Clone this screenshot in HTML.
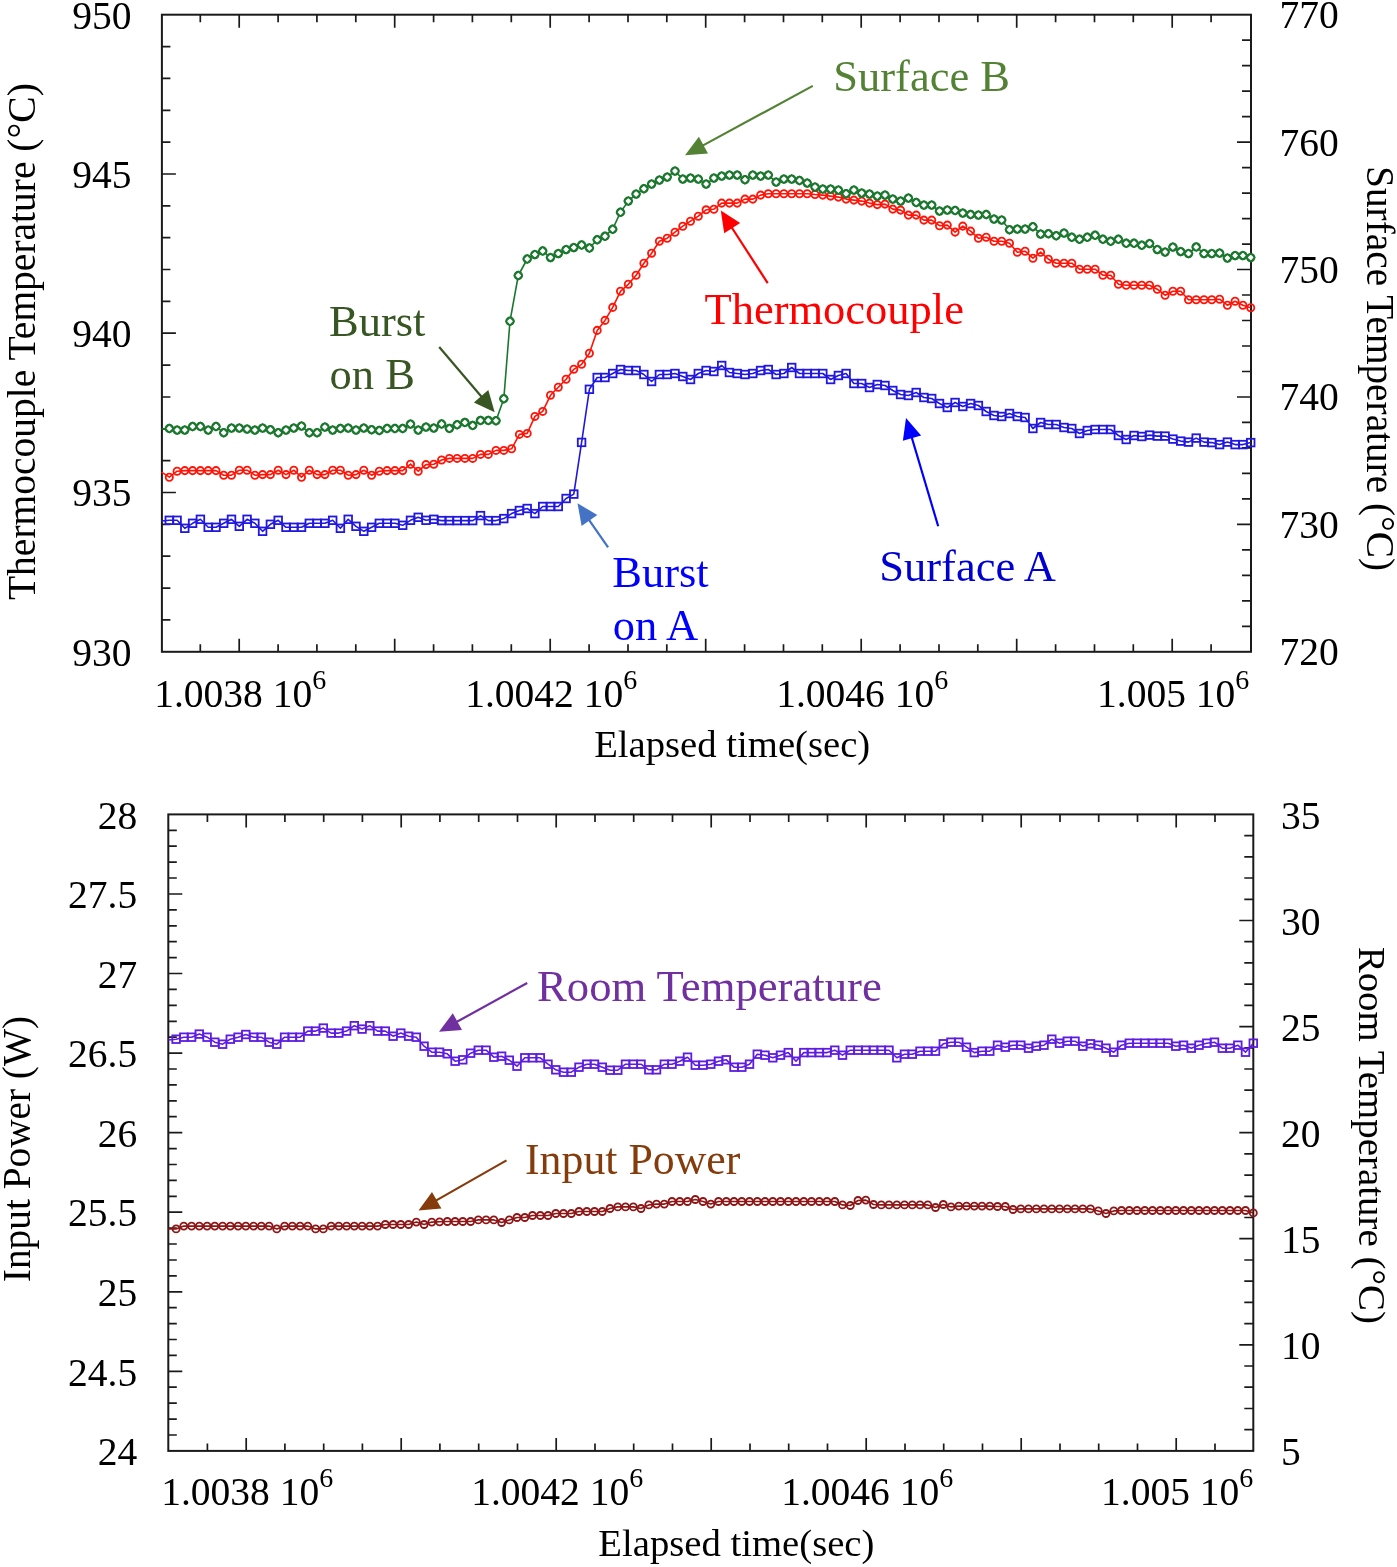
<!DOCTYPE html>
<html lang="en"><head><meta charset="utf-8"><title>Temperature bursts and input power vs elapsed time</title>
<style>html,body{margin:0;padding:0;background:#fff}svg{display:block}text{font-family:"Liberation Serif",serif;fill:#000}.tk{font-size:39.5px}.ax{font-size:38.7px}.an{font-size:44.5px}.sup{font-size:28px}.fr{fill:none;stroke:#1a1a1a;stroke-width:2}.t{stroke:#1a1a1a;stroke-width:1.7;fill:none}.s{fill:none;stroke-width:1.6;stroke-linejoin:round}</style></head><body>
<svg width="1397" height="1567" viewBox="0 0 1397 1567">
<rect width="1397" height="1567" fill="#fff"/>
<defs>
<marker id="mg" markerUnits="userSpaceOnUse" markerWidth="14" markerHeight="14" refX="7" refY="7" viewBox="0 0 14 14" overflow="visible"><circle cx="7" cy="7" r="3.8" fill="#fff" stroke="#1b772e" stroke-width="1.8"/><path d="M7 3 L11 7 L7 11 L3 7Z" fill="none" stroke="#1b772e" stroke-width="1.4"/></marker>
<marker id="mr" markerUnits="userSpaceOnUse" markerWidth="14" markerHeight="14" refX="7" refY="7" viewBox="0 0 14 14" overflow="visible"><circle cx="7" cy="7" r="3.6" fill="none" stroke="#ff1408" stroke-width="1.85"/></marker>
<marker id="mb" markerUnits="userSpaceOnUse" markerWidth="14" markerHeight="14" refX="7" refY="7" viewBox="0 0 14 14" overflow="visible"><rect x="3.2" y="3.2" width="7.6" height="7.6" fill="none" stroke="#2018de" stroke-width="1.8"/></marker>
<marker id="mp" markerUnits="userSpaceOnUse" markerWidth="14" markerHeight="14" refX="7" refY="7" viewBox="0 0 14 14" overflow="visible"><rect x="3.2" y="3.2" width="7.6" height="7.6" fill="none" stroke="#5e1ce2" stroke-width="1.8"/></marker>
<marker id="mn" markerUnits="userSpaceOnUse" markerWidth="14" markerHeight="14" refX="7" refY="7" viewBox="0 0 14 14" overflow="visible"><circle cx="7" cy="7" r="3.5" fill="none" stroke="#8e1616" stroke-width="1.85"/></marker>
</defs>
<g>
<path class="t" d="M200.3 14.7v7.5M200.3 651.8v-7.5M239.2 14.7v13M239.2 651.8v-13M278.1 14.7v7.5M278.1 651.8v-7.5M316.9 14.7v7.5M316.9 651.8v-7.5M355.8 14.7v7.5M355.8 651.8v-7.5M394.7 14.7v13M394.7 651.8v-13M433.6 14.7v7.5M433.6 651.8v-7.5M472.4 14.7v7.5M472.4 651.8v-7.5M511.3 14.7v7.5M511.3 651.8v-7.5M550.2 14.7v13M550.2 651.8v-13M589.1 14.7v7.5M589.1 651.8v-7.5M628 14.7v7.5M628 651.8v-7.5M666.8 14.7v7.5M666.8 651.8v-7.5M705.7 14.7v13M705.7 651.8v-13M744.6 14.7v7.5M744.6 651.8v-7.5M783.5 14.7v7.5M783.5 651.8v-7.5M822.3 14.7v7.5M822.3 651.8v-7.5M861.2 14.7v13M861.2 651.8v-13M900.1 14.7v7.5M900.1 651.8v-7.5M939 14.7v7.5M939 651.8v-7.5M977.8 14.7v7.5M977.8 651.8v-7.5M1016.7 14.7v13M1016.7 651.8v-13M1055.6 14.7v7.5M1055.6 651.8v-7.5M1094.5 14.7v7.5M1094.5 651.8v-7.5M1133.3 14.7v7.5M1133.3 651.8v-7.5M1172.2 14.7v13M1172.2 651.8v-13M1211.1 14.7v7.5M1211.1 651.8v-7.5M161.9 46.6h8.5M161.9 78.4h8.5M161.9 110.3h8.5M161.9 142.1h8.5M161.9 174h14M161.9 205.8h8.5M161.9 237.7h8.5M161.9 269.5h8.5M161.9 301.4h8.5M161.9 333.2h14M161.9 365.1h8.5M161.9 397h8.5M161.9 428.8h8.5M161.9 460.7h8.5M161.9 492.5h14M161.9 524.4h8.5M161.9 556.2h8.5M161.9 588.1h8.5M161.9 619.9h8.5M1251 40.2h-9M1251 65.7h-9M1251 91.2h-9M1251 116.6h-9M1251 142.1h-14M1251 167.6h-9M1251 193.1h-9M1251 218.6h-9M1251 244.1h-9M1251 269.5h-14M1251 295h-9M1251 320.5h-9M1251 346h-9M1251 371.5h-9M1251 397h-14M1251 422.4h-9M1251 447.9h-9M1251 473.4h-9M1251 498.9h-9M1251 524.4h-14M1251 549.9h-9M1251 575.3h-9M1251 600.8h-9M1251 626.3h-9"/>
<rect class="fr" x="161.9" y="14.7" width="1089.1" height="637.1"/>
<text class="tk" x="131.5" y="28.6" text-anchor="end">950</text>
<text class="tk" x="131.5" y="187.9" text-anchor="end">945</text>
<text class="tk" x="131.5" y="347.1" text-anchor="end">940</text>
<text class="tk" x="131.5" y="506.4" text-anchor="end">935</text>
<text class="tk" x="131.5" y="665.7" text-anchor="end">930</text>
<text class="tk" x="1279.5" y="28.1">770</text>
<text class="tk" x="1279.5" y="155.5">760</text>
<text class="tk" x="1279.5" y="282.9">750</text>
<text class="tk" x="1279.5" y="410.4">740</text>
<text class="tk" x="1279.5" y="537.8">730</text>
<text class="tk" x="1279.5" y="665.2">720</text>
<text class="tk" x="240.2" y="707" text-anchor="middle">1.0038 10<tspan class="sup" dy="-18">6</tspan></text>
<text class="tk" x="551.2" y="707" text-anchor="middle">1.0042 10<tspan class="sup" dy="-18">6</tspan></text>
<text class="tk" x="862.2" y="707" text-anchor="middle">1.0046 10<tspan class="sup" dy="-18">6</tspan></text>
<text class="tk" x="1173.2" y="707" text-anchor="middle">1.005 10<tspan class="sup" dy="-18">6</tspan></text>
<text class="ax" x="732.2" y="757.3" text-anchor="middle">Elapsed time(sec)</text>
<text class="ax" style="font-size:39.5px" transform="translate(34.5 341.6) rotate(-90)" text-anchor="middle">Thermocouple Temperature (°C)</text>
<text class="ax" style="font-size:39.3px" transform="translate(1366.5 368.6) rotate(90)" text-anchor="middle">Surface Temperature (°C)</text>
<polyline class="s" stroke="#2018de" marker-mid="url(#mb)" marker-end="url(#mb)" points="161.5,521 169.3,520.3 177.1,520.3 184.8,528.3 192.6,523.3 200.4,519.3 208.2,527.3 216,527.3 223.7,523.3 231.5,519.3 239.3,526.3 247.1,519.3 254.9,523.3 262.6,531.3 270.4,524.3 278.2,520.3 286,527.3 293.8,527.3 301.5,527.3 309.3,523.3 317.1,523.3 324.9,523.3 332.7,520.3 340.4,528.3 348.2,519.3 356,526.3 363.8,531.3 371.6,527.3 379.3,523.3 387.1,523.3 394.9,523.3 402.7,525.3 410.5,520.3 418.2,517.3 426,520.3 433.8,519.3 441.6,520.6 449.4,520.6 457.1,520.6 464.9,520.6 472.7,520.6 480.5,515.6 488.3,520.6 496,520.6 503.8,518.6 511.6,513.6 519.4,510.5 527.2,508.5 534.9,513.6 542.7,506.5 550.5,506.5 558.3,506.5 566.1,498.5 573.8,494.1 581.6,442.4 589.4,389.3 597.2,377.5 605,377.5 612.7,373.5 620.5,369.5 628.3,370.5 636.1,370.5 643.9,374.5 651.6,381.5 659.4,374.5 667.2,374.5 675,373.5 682.8,376.5 690.5,379.5 698.3,373.5 706.1,370.5 713.9,371.5 721.7,365.5 729.4,372.5 737.2,373.5 745,374.5 752.8,373.5 760.6,370.5 768.3,369.5 776.1,374.5 783.9,373.5 791.7,367.5 799.5,373.5 807.2,373.5 815,373.5 822.8,373.5 830.6,379.5 838.4,375.5 846.1,373.5 853.9,383.5 861.7,383.5 869.5,387.5 877.3,384.5 885,385.5 892.8,390.5 900.6,394.5 908.4,395.5 916.2,392.5 923.9,397.5 931.7,398.5 939.5,403.5 947.3,407.5 955.1,402.5 962.8,406.5 970.6,403.5 978.4,405.5 986.2,411.5 994,415.5 1001.7,416.5 1009.5,413.5 1017.3,416.5 1025.1,417.5 1032.9,428.5 1040.6,422.5 1048.4,424.5 1056.2,424.5 1064,427.5 1071.8,428.5 1079.5,433.5 1087.3,430.5 1095.1,429.5 1102.9,429.5 1110.7,429.5 1118.4,435.5 1126.2,439.5 1134,435.5 1141.8,436.5 1149.6,435.1 1157.3,436.1 1165.1,436.1 1172.9,439.1 1180.7,441.1 1188.5,442.1 1196.2,438.1 1204,442.1 1211.8,442.6 1219.6,444.6 1227.4,442.1 1235.1,444.6 1242.9,444.6 1250.7,442.6"/>
<polyline class="s" stroke="#ff1408" marker-mid="url(#mr)" marker-end="url(#mr)" points="161.5,472.2 169.3,477.2 177.1,471.2 184.8,470.6 192.6,470.6 200.4,470.6 208.2,470.6 216,470.6 223.7,475.2 231.5,475.2 239.3,470.2 247.1,470.2 254.9,475.2 262.6,474.6 270.4,474.6 278.2,470.2 286,474.6 293.8,470.2 301.5,477.2 309.3,470.2 317.1,474.6 324.9,474.6 332.7,470.2 340.4,470.2 348.2,475.2 356,474.6 363.8,470.2 371.6,475.2 379.3,471.2 387.1,470.6 394.9,470.6 402.7,470.6 410.5,464.2 418.2,471.2 426,464.6 433.8,464.2 441.6,460 449.4,458.4 457.1,458.4 464.9,458.4 472.7,458.4 480.5,454.4 488.3,454.4 496,450.4 503.8,450.4 511.6,448.8 519.4,434.4 527.2,433.4 534.9,416.4 542.7,411.4 550.5,395.3 558.3,387.3 566.1,379.3 573.8,369.3 581.6,364.3 589.4,353.2 597.2,330.4 605,320.4 612.7,307.4 620.5,291.3 628.3,284.3 636.1,275.3 643.9,263.3 651.6,253.2 659.4,241.2 667.2,238.2 675,232.2 682.8,226.2 690.5,221.2 698.3,216.2 706.1,209.8 713.9,209.2 721.7,203.1 729.4,203.1 737.2,203.1 745,199.1 752.8,199.1 760.6,195.1 768.3,193.7 776.1,193.7 783.9,193.7 791.7,193.7 799.5,193.7 807.2,193.7 815,194.5 822.8,195.1 830.6,196.1 838.4,197.1 846.1,199.1 853.9,200.1 861.7,201.1 869.5,203.1 877.3,204.6 885,204.1 892.8,209.1 900.6,210.1 908.4,215.1 916.2,215.1 923.9,220.1 931.7,220.1 939.5,225.7 947.3,225.1 955.1,232.1 962.8,226.1 970.6,231.1 978.4,238.2 986.2,237.2 994,241.2 1001.7,241.2 1009.5,243.2 1017.3,252.2 1025.1,251.2 1032.9,258.2 1040.6,252.2 1048.4,259.2 1056.2,263.2 1064,263.2 1071.8,263.2 1079.5,269.2 1087.3,269.2 1095.1,269.2 1102.9,275.2 1110.7,275.2 1118.4,284.2 1126.2,285.3 1134,285.3 1141.8,285.3 1149.6,285.2 1157.3,289.2 1165.1,295.2 1172.9,291.2 1180.7,291.2 1188.5,299.7 1196.2,299.7 1204,299.7 1211.8,299.7 1219.6,299.2 1227.4,305.2 1235.1,301.2 1242.9,305.2 1250.7,307.7"/>
<polyline class="s" stroke="#1b772e" marker-mid="url(#mg)" marker-end="url(#mg)" points="161.5,429 169.3,428.5 177.1,430.1 184.8,430.1 192.6,426.5 200.4,426.5 208.2,430.1 216,426.5 223.7,432.7 231.5,428.1 239.3,428.1 247.1,429.1 254.9,430.1 262.6,428.1 270.4,429.7 278.2,432.7 286,430.1 293.8,428.1 301.5,426.1 309.3,432.7 317.1,432.7 324.9,427.1 332.7,430.1 340.4,428.5 348.2,428.1 356,430.1 363.8,428.1 371.6,429.7 379.3,430.5 387.1,428.5 394.9,428.5 402.7,428.5 410.5,424.1 418.2,430.1 426,427.1 433.8,428.1 441.6,424 449.4,428.4 457.1,424.8 464.9,422.4 472.7,425.4 480.5,420.4 488.3,420.4 496,420.8 503.8,398.7 510,321.2 518.3,275.5 527.2,259 534.9,254.6 542.7,251 550.5,257.6 558.3,253.6 566.1,249.6 573.8,247.6 581.6,245 589.4,248 597.2,239.8 605,236.2 612.7,229.2 620.5,212.2 628.3,201.1 636.1,194.1 643.9,188.7 651.6,184.1 659.4,180.1 667.2,177.1 675,171.1 682.8,179.1 690.5,178.1 698.3,179.1 706.1,184.1 713.9,178.1 721.7,176.1 729.4,175.1 737.2,175.1 745,179.7 752.8,175.1 760.6,176.1 768.3,175.1 776.1,182.1 783.9,179.1 791.7,179.1 799.5,180.5 807.2,183.1 815,187.1 822.8,189.1 830.6,189.1 838.4,190.1 846.1,193.7 853.9,190.1 861.7,193.1 869.5,194.1 877.3,196.1 885,195.1 892.8,199.1 900.6,201.1 908.4,198.1 916.2,202.5 923.9,205.1 931.7,205.1 939.5,211.1 947.3,210.1 955.1,210.5 962.8,213.1 970.6,214.5 978.4,215.1 986.2,214.5 994,219.1 1001.7,220.1 1009.5,229.7 1017.3,229.1 1025.1,229.1 1032.9,226.7 1040.6,234.1 1048.4,233.7 1056.2,235.8 1064,233.1 1071.8,237.2 1079.5,239.2 1087.3,237.2 1095.1,235.2 1102.9,239.2 1110.7,241.2 1118.4,239.2 1126.2,243.2 1134,243.2 1141.8,245.2 1149.6,243.6 1157.3,249.6 1165.1,252.1 1172.9,247.1 1180.7,251.6 1188.5,253.6 1196.2,246.9 1204,253.6 1211.8,253.6 1219.6,253.1 1227.4,258.1 1235.1,255.6 1242.9,255.6 1250.7,257.6"/>
</g>
<path d="M812.8 85.9L701.7 146.1" stroke="#548235" stroke-width="2.2" fill="none"/>
<path d="M685 155.2L698.9 136.8L708 153.5Z" fill="#548235"/>
<text class="an" x="833.3" y="91" style="fill:#548235">Surface B</text>
<path d="M767.7 283.1L731.1 226.5" stroke="#ff0000" stroke-width="2.2" fill="none"/>
<path d="M720.8 210.5L740.2 223L724.2 233.3Z" fill="#ff0000"/>
<text class="an" x="704.5" y="324.3" style="fill:#ff0000">Thermocouple</text>
<path d="M439.2 347L482.4 397.8" stroke="#375623" stroke-width="2.2" fill="none"/>
<path d="M494.7 412.3L473.9 402.5L488.3 390.1Z" fill="#375623"/>
<text class="an" x="329" y="335.8" style="fill:#375623">Burst</text>
<text class="an" x="329.5" y="389.1" style="fill:#375623">on B</text>
<path d="M608.1 547.4L588.3 518.8" stroke="#4472c4" stroke-width="2.2" fill="none"/>
<path d="M577.5 503.2L597.3 515.1L581.6 525.9Z" fill="#4472c4"/>
<text class="an" x="612.3" y="586.5" style="fill:#0000ff">Burst</text>
<text class="an" x="612.8" y="639.8" style="fill:#0000ff">on A</text>
<path d="M938.2 526.3L911.4 436.2" stroke="#0000ff" stroke-width="2.2" fill="none"/>
<path d="M906 418L921.1 435.4L902.9 440.8Z" fill="#0000ff"/>
<text class="an" x="879.3" y="581.3" style="fill:#0000d0">Surface A</text>
<g>
<path class="t" d="M207.4 814.4v7.5M207.4 1450.9v-7.5M246.2 814.4v13M246.2 1450.9v-13M284.9 814.4v7.5M284.9 1450.9v-7.5M323.7 814.4v7.5M323.7 1450.9v-7.5M362.4 814.4v7.5M362.4 1450.9v-7.5M401.2 814.4v13M401.2 1450.9v-13M439.9 814.4v7.5M439.9 1450.9v-7.5M478.7 814.4v7.5M478.7 1450.9v-7.5M517.5 814.4v7.5M517.5 1450.9v-7.5M556.2 814.4v13M556.2 1450.9v-13M595 814.4v7.5M595 1450.9v-7.5M633.7 814.4v7.5M633.7 1450.9v-7.5M672.5 814.4v7.5M672.5 1450.9v-7.5M711.2 814.4v13M711.2 1450.9v-13M750 814.4v7.5M750 1450.9v-7.5M788.7 814.4v7.5M788.7 1450.9v-7.5M827.5 814.4v7.5M827.5 1450.9v-7.5M866.2 814.4v13M866.2 1450.9v-13M905 814.4v7.5M905 1450.9v-7.5M943.7 814.4v7.5M943.7 1450.9v-7.5M982.5 814.4v7.5M982.5 1450.9v-7.5M1021.2 814.4v13M1021.2 1450.9v-13M1060 814.4v7.5M1060 1450.9v-7.5M1098.7 814.4v7.5M1098.7 1450.9v-7.5M1137.5 814.4v7.5M1137.5 1450.9v-7.5M1176.2 814.4v13M1176.2 1450.9v-13M1215 814.4v7.5M1215 1450.9v-7.5M168.3 830.3h8.5M168.3 846.2h8.5M168.3 862.1h8.5M168.3 878h8.5M168.3 894h14M168.3 909.9h8.5M168.3 925.8h8.5M168.3 941.7h8.5M168.3 957.6h8.5M168.3 973.5h14M168.3 989.4h8.5M168.3 1005.4h8.5M168.3 1021.3h8.5M168.3 1037.2h8.5M168.3 1053.1h14M168.3 1069h8.5M168.3 1084.9h8.5M168.3 1100.8h8.5M168.3 1116.7h8.5M168.3 1132.7h14M168.3 1148.6h8.5M168.3 1164.5h8.5M168.3 1180.4h8.5M168.3 1196.3h8.5M168.3 1212.2h14M168.3 1228.1h8.5M168.3 1244h8.5M168.3 1260h8.5M168.3 1275.9h8.5M168.3 1291.8h14M168.3 1307.7h8.5M168.3 1323.6h8.5M168.3 1339.5h8.5M168.3 1355.4h8.5M168.3 1371.3h14M168.3 1387.2h8.5M168.3 1403.2h8.5M168.3 1419.1h8.5M168.3 1435h8.5M1253.3 835.6h-9M1253.3 856.8h-9M1253.3 878h-9M1253.3 899.3h-9M1253.3 920.5h-14M1253.3 941.7h-9M1253.3 962.9h-9M1253.3 984.1h-9M1253.3 1005.4h-9M1253.3 1026.6h-14M1253.3 1047.8h-9M1253.3 1069h-9M1253.3 1090.2h-9M1253.3 1111.4h-9M1253.3 1132.7h-14M1253.3 1153.9h-9M1253.3 1175.1h-9M1253.3 1196.3h-9M1253.3 1217.5h-9M1253.3 1238.7h-14M1253.3 1260h-9M1253.3 1281.2h-9M1253.3 1302.4h-9M1253.3 1323.6h-9M1253.3 1344.8h-14M1253.3 1366h-9M1253.3 1387.2h-9M1253.3 1408.5h-9M1253.3 1429.7h-9"/>
<rect class="fr" x="168.3" y="814.4" width="1085" height="636.5"/>
<text class="tk" x="137.2" y="828.6" text-anchor="end">28</text>
<text class="tk" x="137.2" y="908.2" text-anchor="end">27.5</text>
<text class="tk" x="137.2" y="987.7" text-anchor="end">27</text>
<text class="tk" x="137.2" y="1067.3" text-anchor="end">26.5</text>
<text class="tk" x="137.2" y="1146.9" text-anchor="end">26</text>
<text class="tk" x="137.2" y="1226.4" text-anchor="end">25.5</text>
<text class="tk" x="137.2" y="1306" text-anchor="end">25</text>
<text class="tk" x="137.2" y="1385.5" text-anchor="end">24.5</text>
<text class="tk" x="137.2" y="1465.1" text-anchor="end">24</text>
<text class="tk" x="1281" y="828.6">35</text>
<text class="tk" x="1281" y="934.7">30</text>
<text class="tk" x="1281" y="1040.8">25</text>
<text class="tk" x="1281" y="1146.9">20</text>
<text class="tk" x="1281" y="1252.9">15</text>
<text class="tk" x="1281" y="1359">10</text>
<text class="tk" x="1281" y="1465.1">5</text>
<text class="tk" x="247.2" y="1504.8" text-anchor="middle">1.0038 10<tspan class="sup" dy="-18">6</tspan></text>
<text class="tk" x="557.2" y="1504.8" text-anchor="middle">1.0042 10<tspan class="sup" dy="-18">6</tspan></text>
<text class="tk" x="867.2" y="1504.8" text-anchor="middle">1.0046 10<tspan class="sup" dy="-18">6</tspan></text>
<text class="tk" x="1177.2" y="1504.8" text-anchor="middle">1.005 10<tspan class="sup" dy="-18">6</tspan></text>
<text class="ax" x="736.4" y="1555.5" text-anchor="middle">Elapsed time(sec)</text>
<text class="ax" style="font-size:39.3px" transform="translate(30 1149) rotate(-90)" text-anchor="middle">Input Power (W)</text>
<text class="ax" style="font-size:38.9px" transform="translate(1358.5 1135.3) rotate(90)" text-anchor="middle">Room Temperature (°C)</text>
<polyline class="s" stroke="#5e1ce2" marker-mid="url(#mp)" marker-end="url(#mp)" points="168.3,1040 176.1,1039.2 183.8,1037.2 191.6,1037.2 199.3,1034.1 207.1,1037.2 214.8,1042.2 222.6,1044.2 230.3,1039.2 238.1,1037.2 245.8,1034.5 253.6,1037.2 261.3,1037.2 269.1,1042.2 276.8,1044.2 284.6,1037.2 292.3,1037.2 300.1,1037.2 307.8,1031.1 315.6,1031.1 323.3,1028.1 331.1,1033.1 338.8,1033.1 346.6,1031.1 354.3,1025.7 362.1,1029.1 369.8,1025.7 377.6,1031.1 385.3,1031.1 393.1,1036.2 400.8,1033.1 408.6,1036.2 416.3,1037.2 424.1,1046.2 431.8,1052.2 439.6,1052.2 447.3,1053.8 455.1,1061.2 462.8,1059.8 470.6,1053.2 478.3,1050.2 486.1,1050.2 493.8,1057.2 501.6,1056.2 509.3,1060.2 517,1066.2 524.8,1057.8 532.5,1057.8 540.3,1057.8 548,1064.2 555.8,1069.8 563.5,1072.2 571.3,1072.2 579,1067.2 586.8,1064.2 594.5,1064.2 602.3,1067.2 610,1070.2 617.8,1070.2 625.5,1064.2 633.3,1064.2 641,1064.2 648.8,1069.8 656.5,1069.8 664.3,1064.2 672,1064.2 679.8,1061.2 687.5,1057.2 695.3,1065.2 703,1065.2 710.8,1064.2 718.5,1061.2 726.3,1059.8 734,1067.2 741.8,1067.2 749.5,1064.2 757.3,1054.2 765,1055.2 772.8,1057.8 780.5,1055.2 788.3,1052.6 796,1061.2 803.8,1052.6 811.5,1052.6 819.3,1052.6 827,1052.6 834.8,1050.2 842.5,1055.2 850.3,1050.2 858,1050.2 865.8,1050.2 873.5,1050.2 881.3,1050.2 889,1050.2 896.8,1057.8 904.5,1054.2 912.3,1054.2 920,1051.2 927.8,1051.2 935.5,1051.2 943.3,1043.8 951,1042.2 958.8,1042.2 966.5,1047.2 974.3,1052.6 982,1051.2 989.8,1051.2 997.5,1045.2 1005.3,1047.2 1013,1045.2 1020.8,1045.2 1028.5,1048.2 1036.3,1046.2 1044,1045.2 1051.8,1039.2 1059.5,1043.2 1067.3,1041.2 1075,1041.2 1082.8,1046.2 1090.5,1043.8 1098.3,1045.2 1106,1048.2 1113.8,1052.2 1121.5,1045.2 1129.3,1043.2 1137,1043.2 1144.8,1043.2 1152.5,1043.2 1160.3,1043.2 1168,1043.2 1175.8,1046.2 1183.5,1045.2 1191.3,1048.2 1199,1045.2 1206.8,1043.2 1214.5,1042.2 1222.3,1048.2 1230,1048.2 1237.8,1045.2 1245.5,1052.2 1253.3,1043.2"/>
<polyline class="s" stroke="#8e1616" marker-mid="url(#mn)" marker-end="url(#mn)" points="168.3,1229 176.1,1228.9 183.8,1226.1 191.6,1226.1 199.3,1226.1 207.1,1226.1 214.8,1226.1 222.6,1226.1 230.3,1226.1 238.1,1226.1 245.8,1226.1 253.6,1226.1 261.3,1226.1 269.1,1226.1 276.8,1228.9 284.6,1226.1 292.3,1226.1 300.1,1226.1 307.8,1226.1 315.6,1228.9 323.3,1228.9 331.1,1226.1 338.8,1226.1 346.6,1226.1 354.3,1226.1 362.1,1226.1 369.8,1226.1 377.6,1226.1 385.3,1224.5 393.1,1224.5 400.8,1224.5 408.6,1224.5 416.3,1222.1 424.1,1224.5 431.8,1222.1 439.6,1221.8 447.3,1221.5 455.1,1221.5 462.8,1221.5 470.6,1221.5 478.3,1219.9 486.1,1219.9 493.8,1219.9 501.6,1222.5 509.3,1219.9 517,1217.5 524.8,1217.5 532.5,1215.5 540.3,1215.5 548,1215.5 555.8,1213.5 563.5,1213.5 571.3,1213.5 579,1211.5 586.8,1211.5 594.5,1211.5 602.3,1211.5 610,1208.5 617.8,1206.9 625.5,1206.9 633.3,1206.9 641,1208.5 648.8,1204.9 656.5,1204.1 664.3,1204.1 672,1201.5 679.8,1201.5 687.5,1201.5 695.3,1199.5 703,1201.5 710.8,1204.1 718.5,1201.5 726.3,1201.5 734,1201.5 741.8,1201.5 749.5,1201.5 757.3,1201.5 765,1201.5 772.8,1201.5 780.5,1201.5 788.3,1201.5 796,1201.5 803.8,1201.5 811.5,1201.5 819.3,1201.5 827,1201.5 834.8,1201.5 842.5,1204.9 850.3,1205.5 858,1200.5 865.8,1200.1 873.5,1204.5 881.3,1204.9 889,1204.9 896.8,1204.9 904.5,1204.9 912.3,1204.9 920,1204.9 927.8,1204.9 935.5,1207.5 943.3,1204.5 951,1206.9 958.8,1206.1 966.5,1206.1 974.3,1206.1 982,1206.1 989.8,1206.1 997.5,1206.5 1005.3,1206.5 1013,1209.5 1020.8,1208.9 1028.5,1208.9 1036.3,1208.9 1044,1208.9 1051.8,1208.9 1059.5,1208.9 1067.3,1208.9 1075,1208.9 1082.8,1208.9 1090.5,1208.9 1098.3,1210.9 1106,1213.5 1113.8,1210.9 1121.5,1210.5 1129.3,1210.5 1137,1210.5 1144.8,1210.5 1152.5,1210.5 1160.3,1210.5 1168,1210.5 1175.8,1210.5 1183.5,1210.5 1191.3,1210.5 1199,1210.5 1206.8,1210.5 1214.5,1210.5 1222.3,1210.5 1230,1210.5 1237.8,1210.5 1245.5,1210.5 1253.3,1212.9"/>
</g>
<path d="M527.2 983L455.6 1022.5" stroke="#7030a0" stroke-width="2.2" fill="none"/>
<path d="M439 1031.7L452.8 1013.2L462 1029.9Z" fill="#7030a0"/>
<text class="an" x="537" y="1001.1" style="fill:#7030a0;font-size:44.7px">Room Temperature</text>
<path d="M506.5 1160.4L435 1201.1" stroke="#843c0c" stroke-width="2.2" fill="none"/>
<path d="M418.5 1210.5L432 1191.9L441.4 1208.4Z" fill="#843c0c"/>
<text class="an" x="525" y="1174.4" style="fill:#843c0c;font-size:43.8px">Input Power</text>
</svg></body></html>
